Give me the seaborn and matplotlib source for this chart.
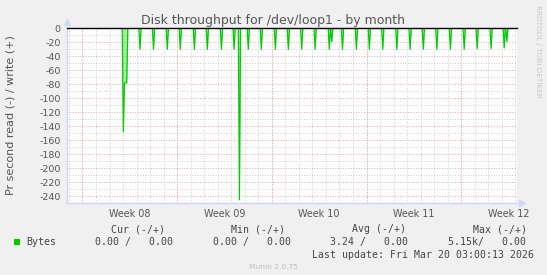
import numpy as np
import pandas as pd
import matplotlib
matplotlib.use("Agg")
import matplotlib.pyplot as plt
from matplotlib.patches import Rectangle
import seaborn as sns

# ---------------- data ----------------
# hours since Mon 16 Feb 2026 00:00 ; read rate (shown negative)
spike_hours = [72.5, 74.5, 76.5, 78.5, 102, 126, 150.5, 173.5, 198.5, 221.5, 246.5,
               269, 278.5, 294.2, 317.3, 342.2, 365.3, 389, 412.8, 438, 442.3, 461.3,
               486, 509, 532.8, 557.8, 581.3, 604.8, 628.8, 652.8, 677.3, 700.3, 725,
               748.3, 753]
spike_values = [-148, -78, -78, -78, -30, -30, -30, -30, -30, -30, -30,
                -30, -245, -30, -30, -30, -30, -30, -30, -30, -19, -30,
                -30, -30, -30, -30, -30, -30, -30, -30, -30, -29, -29,
                -28, -19]
sample_step = 2.0  # hours per consolidated sample
x_start, x_end = -28.0, 771.0

week_labels = ["Week 08", "Week 09", "Week 10", "Week 11", "Week 12"]
week_start_hours = [0, 168, 336, 504, 672]

y_ticks = [0, -20, -40, -60, -80, -100, -120, -140, -160, -180, -200, -220, -240]

title = "Disk throughput for /dev/loop1 - by month"
ylabel = "Pr second read (-) / write (+)"
legend_name = "Bytes"
legend_headers = ["Cur (-/+)", "Min (-/+)", "Avg (-/+)", "Max (-/+)"]
legend_values = ["0.00 /   0.00", "0.00 /   0.00", "3.24 /   0.00", "5.15k/   0.00"]
last_update = "Last update: Fri Mar 20 03:00:13 2026"
footer = "Munin 2.0.75"
watermark = "RRDTOOL / TOBI OETIKER"

# build the line: flat at zero between samples
xs, ys = [x_start], [0.0]
n = len(spike_hours)
for i, (h, v) in enumerate(zip(spike_hours, spike_values)):
    if i == 0 or h - spike_hours[i - 1] > sample_step + 1e-9:
        xs.append(h - sample_step); ys.append(0.0)
    xs.append(h); ys.append(v)
    if i == n - 1 or spike_hours[i + 1] - h > sample_step + 1e-9:
        xs.append(h + sample_step); ys.append(0.0)
xs.append(x_end); ys.append(0.0)
df = pd.DataFrame({"hour": xs, "rate": ys})

# ---------------- style ----------------
plt.rcParams["axes.unicode_minus"] = False
plt.rcParams["font.family"] = ["DejaVu Sans"]
W, H = 547, 275
BG = "#F0F0F0"
GREEN = "#00CC00"
AXIS = "#CFD6F8"
TXT = "#555555"
GRID_MINOR = "#D2D2D2"
GRID_MAJOR = "#E8A8A8"
DOT = (0, (1, 1.6))
GLW = 0.72

fig = plt.figure(figsize=(W / 100, H / 100), dpi=100, facecolor=BG)
L, R, T, B = 66.7, 517.0, 28.3, 203.3
ax = fig.add_axes([L / W, 1 - B / H, (R - L) / W, (B - T) / H])
ax.set_facecolor("white")

ax.fill_between(df["hour"], df["rate"], 0, color=GREEN, alpha=0.35, lw=0, zorder=3)
sns.lineplot(data=df, x="hour", y="rate", ax=ax, color=GREEN, lw=0.9,
             sort=False, estimator=None, zorder=4)

ax.set_xlim(x_start, x_end)
ax.set_ylim(-250, 0)

# y grid
ax.set_yticks(y_ticks)
ax.set_yticks(np.arange(-250, 1, 10), minor=True)
ax.grid(which="minor", axis="y", color=GRID_MINOR, ls=DOT, lw=GLW, zorder=1)
ax.grid(which="major", axis="y", color=GRID_MAJOR, ls=DOT, lw=GLW, zorder=2)

# x: day grid (minor), week boundaries (red), labels at week middles
day_lines = np.arange(-24, x_end, 24)
ax.set_xticks(day_lines, minor=True)
ax.grid(which="minor", axis="x", color=GRID_MINOR, ls=DOT, lw=GLW, zorder=1)
for ws in week_start_hours:
    ax.axvline(ws, color=GRID_MAJOR, ls=DOT, lw=GLW, zorder=2)
ax.set_xticks([ws + 84 for ws in week_start_hours])
ax.set_xticklabels(week_labels)

ax.tick_params(axis="x", which="major", length=0, pad=4, labelsize=6.9, labelcolor=TXT)
ax.tick_params(axis="x", which="minor", length=0)
ax.tick_params(axis="y", which="major", length=0, pad=4.5, labelsize=6.8, labelcolor=TXT)
ax.tick_params(axis="y", which="minor", length=0)
ax.set_xlabel("")
ax.set_ylabel("")

for s in ["top", "right"]:
    ax.spines[s].set_visible(False)
for s in ["left", "bottom"]:
    ax.spines[s].set_color(AXIS)
    ax.spines[s].set_linewidth(1.0)

ax.axhline(0, color="black", lw=1.0, zorder=5, clip_on=False)
# axis arrows
ax.plot([0], [1.035], marker="^", ms=4, color=AXIS, transform=ax.transAxes, clip_on=False)
ax.plot([1.01], [0], marker=">", ms=4, color=AXIS, transform=ax.transAxes, clip_on=False)

# texts
def fx(px): return px / W
def fy(py): return 1 - py / H

fig.text(fx(273.2), fy(24), title, ha="center", va="baseline", fontsize=9, color=TXT)
fig.text(fx(10.5), fy(115), ylabel, ha="center", va="center", rotation=90,
         fontsize=8, color=TXT)
fig.text(fx(538), fy(5), watermark, ha="center", va="top", rotation=270,
         fontsize=5.2, color="#C8C8C8")

MONO = dict(family="DejaVu Sans Mono", fontsize=7.15, color="#444444", va="baseline")
header_x = [111, 231, 352.5, 473]
value_x = [95.3, 213, 330.5, 448.5]
for hx, htxt in zip(header_x, legend_headers):
    fig.text(fx(hx), fy(232.5), htxt, ha="left", **MONO)
for vx, vtxt in zip(value_x, legend_values):
    fig.text(fx(vx), fy(245), vtxt, ha="left", **MONO)
fig.text(fx(26.2), fy(245), legend_name, ha="left", **MONO)
fig.add_artist(Rectangle((fx(14), fy(244.5)), 5.5 / W, 6 / H,
                         transform=fig.transFigure, color=GREEN, lw=0))
fig.text(fx(311.7), fy(257.6), last_update, ha="left", **MONO)
fig.text(fx(273), fy(269), footer, ha="center", va="baseline", fontsize=5.4, color="#BBBBBB")

fig.savefig("out.png", dpi=100, facecolor=BG)
